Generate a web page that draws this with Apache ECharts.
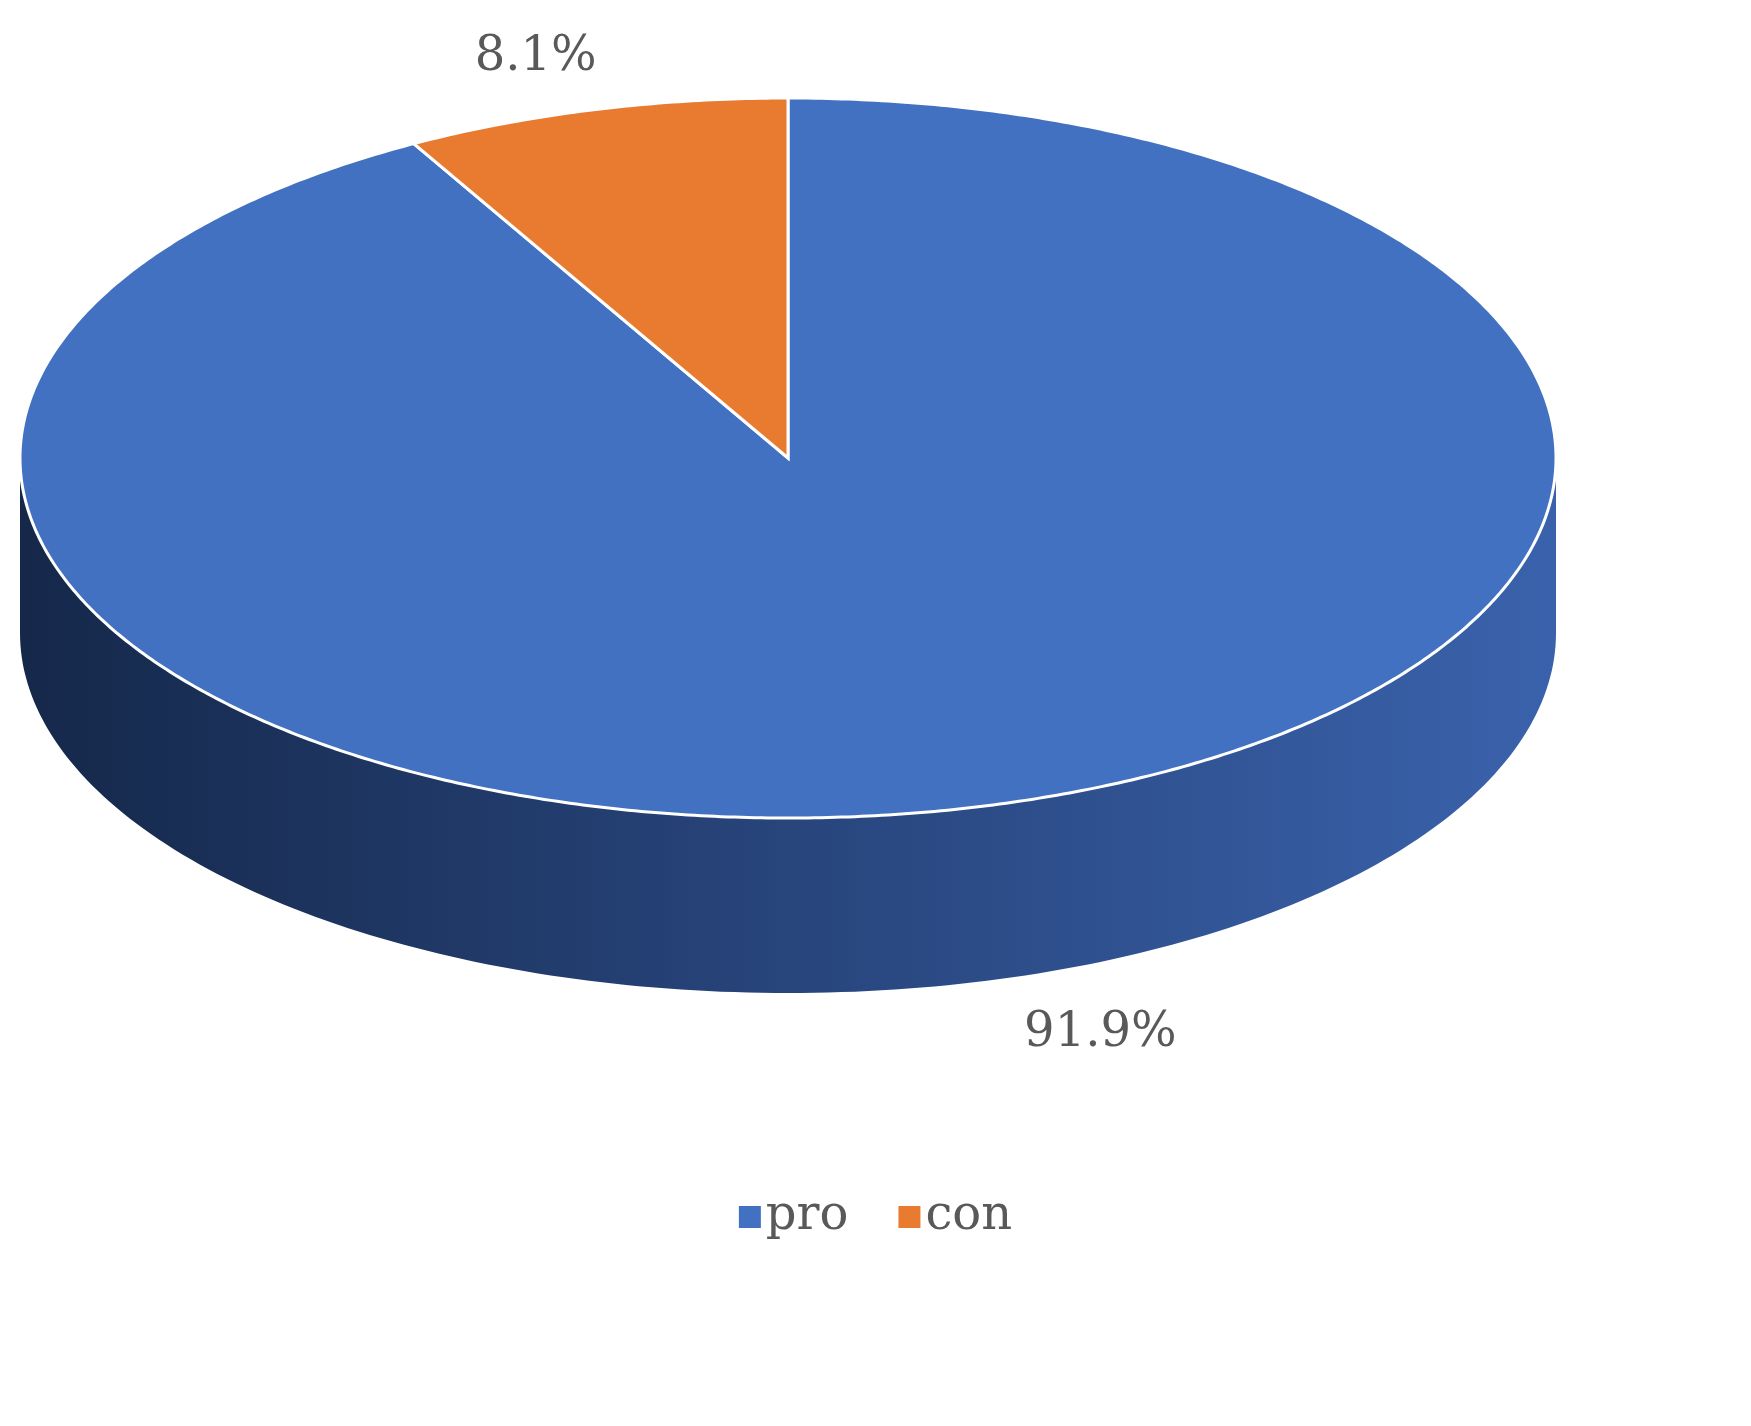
<!DOCTYPE html>
<html>
<head>
<meta charset="utf-8">
<script src="https://cdn.jsdelivr.net/npm/echarts@6/dist/echarts.min.js"></script>
<style>html,body{margin:0;background:#fff}#main{width:1751px;height:1426px}</style>
</head>
<body>
<div id="main"></div>
<script>
var categories = ['pro', 'con'];
var values = [91.9, 8.1];
var colors = ['#4371c2', '#e97b30'];

var total = values.reduce(function (a, b) { return a + b; }, 0);
// start angles, clockwise from 12 o'clock; con ends at the top
var starts = [0, 360 - values[1] / total * 360];

function pt(cx, cy, rx, ry, deg, dy) {
    var r = deg * Math.PI / 180;
    return [cx + rx * Math.sin(r), cy - ry * Math.cos(r) + (dy || 0)];
}

function makeRender(idx) {
    return function (params, api) {
        var cx = 788, cy = 458, rx = 768, ry = 360, depth = 175;
        var a0 = starts[idx], a1 = a0 + values[idx] / total * 360;
        var children = [];
        // side wall, front half only
        var f0 = Math.max(a0, 90), f1 = Math.min(a1, 270);
        if (f1 > f0) {
            var wall = [], d;
            for (d = f0; d <= f1; d += 1) wall.push(pt(cx, cy, rx, ry, d));
            for (d = f1; d >= f0; d -= 1) wall.push(pt(cx, cy, rx, ry, d, depth));
            children.push({
                type: 'polygon', shape: { points: wall },
                style: {
                    fill: new echarts.graphic.LinearGradient(1, 0, 0, 0, [
                        { offset: 0, color: '#3a62ac' },
                        { offset: 0.6, color: '#243f72' },
                        { offset: 1, color: '#15284a' }
                    ])
                }
            });
        }
        var top = [[cx, cy]];
        for (var t = a0; t <= a1; t += 0.5) top.push(pt(cx, cy, rx, ry, t));
        top.push(pt(cx, cy, rx, ry, a1));
        children.push({
            type: 'polygon', shape: { points: top },
            style: { fill: colors[idx], stroke: '#fff', lineWidth: 3 }
        });
        var mid = (a0 + a1) / 2;
        var lp = pt(cx, cy, rx * 1.15, ry * 1.15, mid, Math.cos(mid * Math.PI / 180) < 0 ? depth : 0);
        children.push({
            type: 'text', x: lp[0] + (idx === 0 ? 90 : -30), y: lp[1],
            style: {
                text: values[idx].toFixed(1) + '%', fill: '#595959',
                font: '48px "DejaVu Serif"', align: 'center', verticalAlign: 'middle'
            }
        });
        return { type: 'group', children: children };
    };
}

var chart = echarts.init(document.getElementById('main'));
chart.setOption({
    animation: false,
    color: colors,
    legend: {
        bottom: 180, left: 'center', itemWidth: 22, itemHeight: 22, icon: 'rect', itemGap: 50,
        textStyle: { fontFamily: 'DejaVu Serif', fontSize: 48, color: '#595959' },
        data: categories
    },
    series: categories.map(function (c, i) {
        return {
            type: 'custom', name: c, coordinateSystem: 'none',
            itemStyle: { color: colors[i] },
            data: [values[i]], renderItem: makeRender(i), z: i === 0 ? 2 : 3
        };
    })
});
</script>
</body>
</html>
